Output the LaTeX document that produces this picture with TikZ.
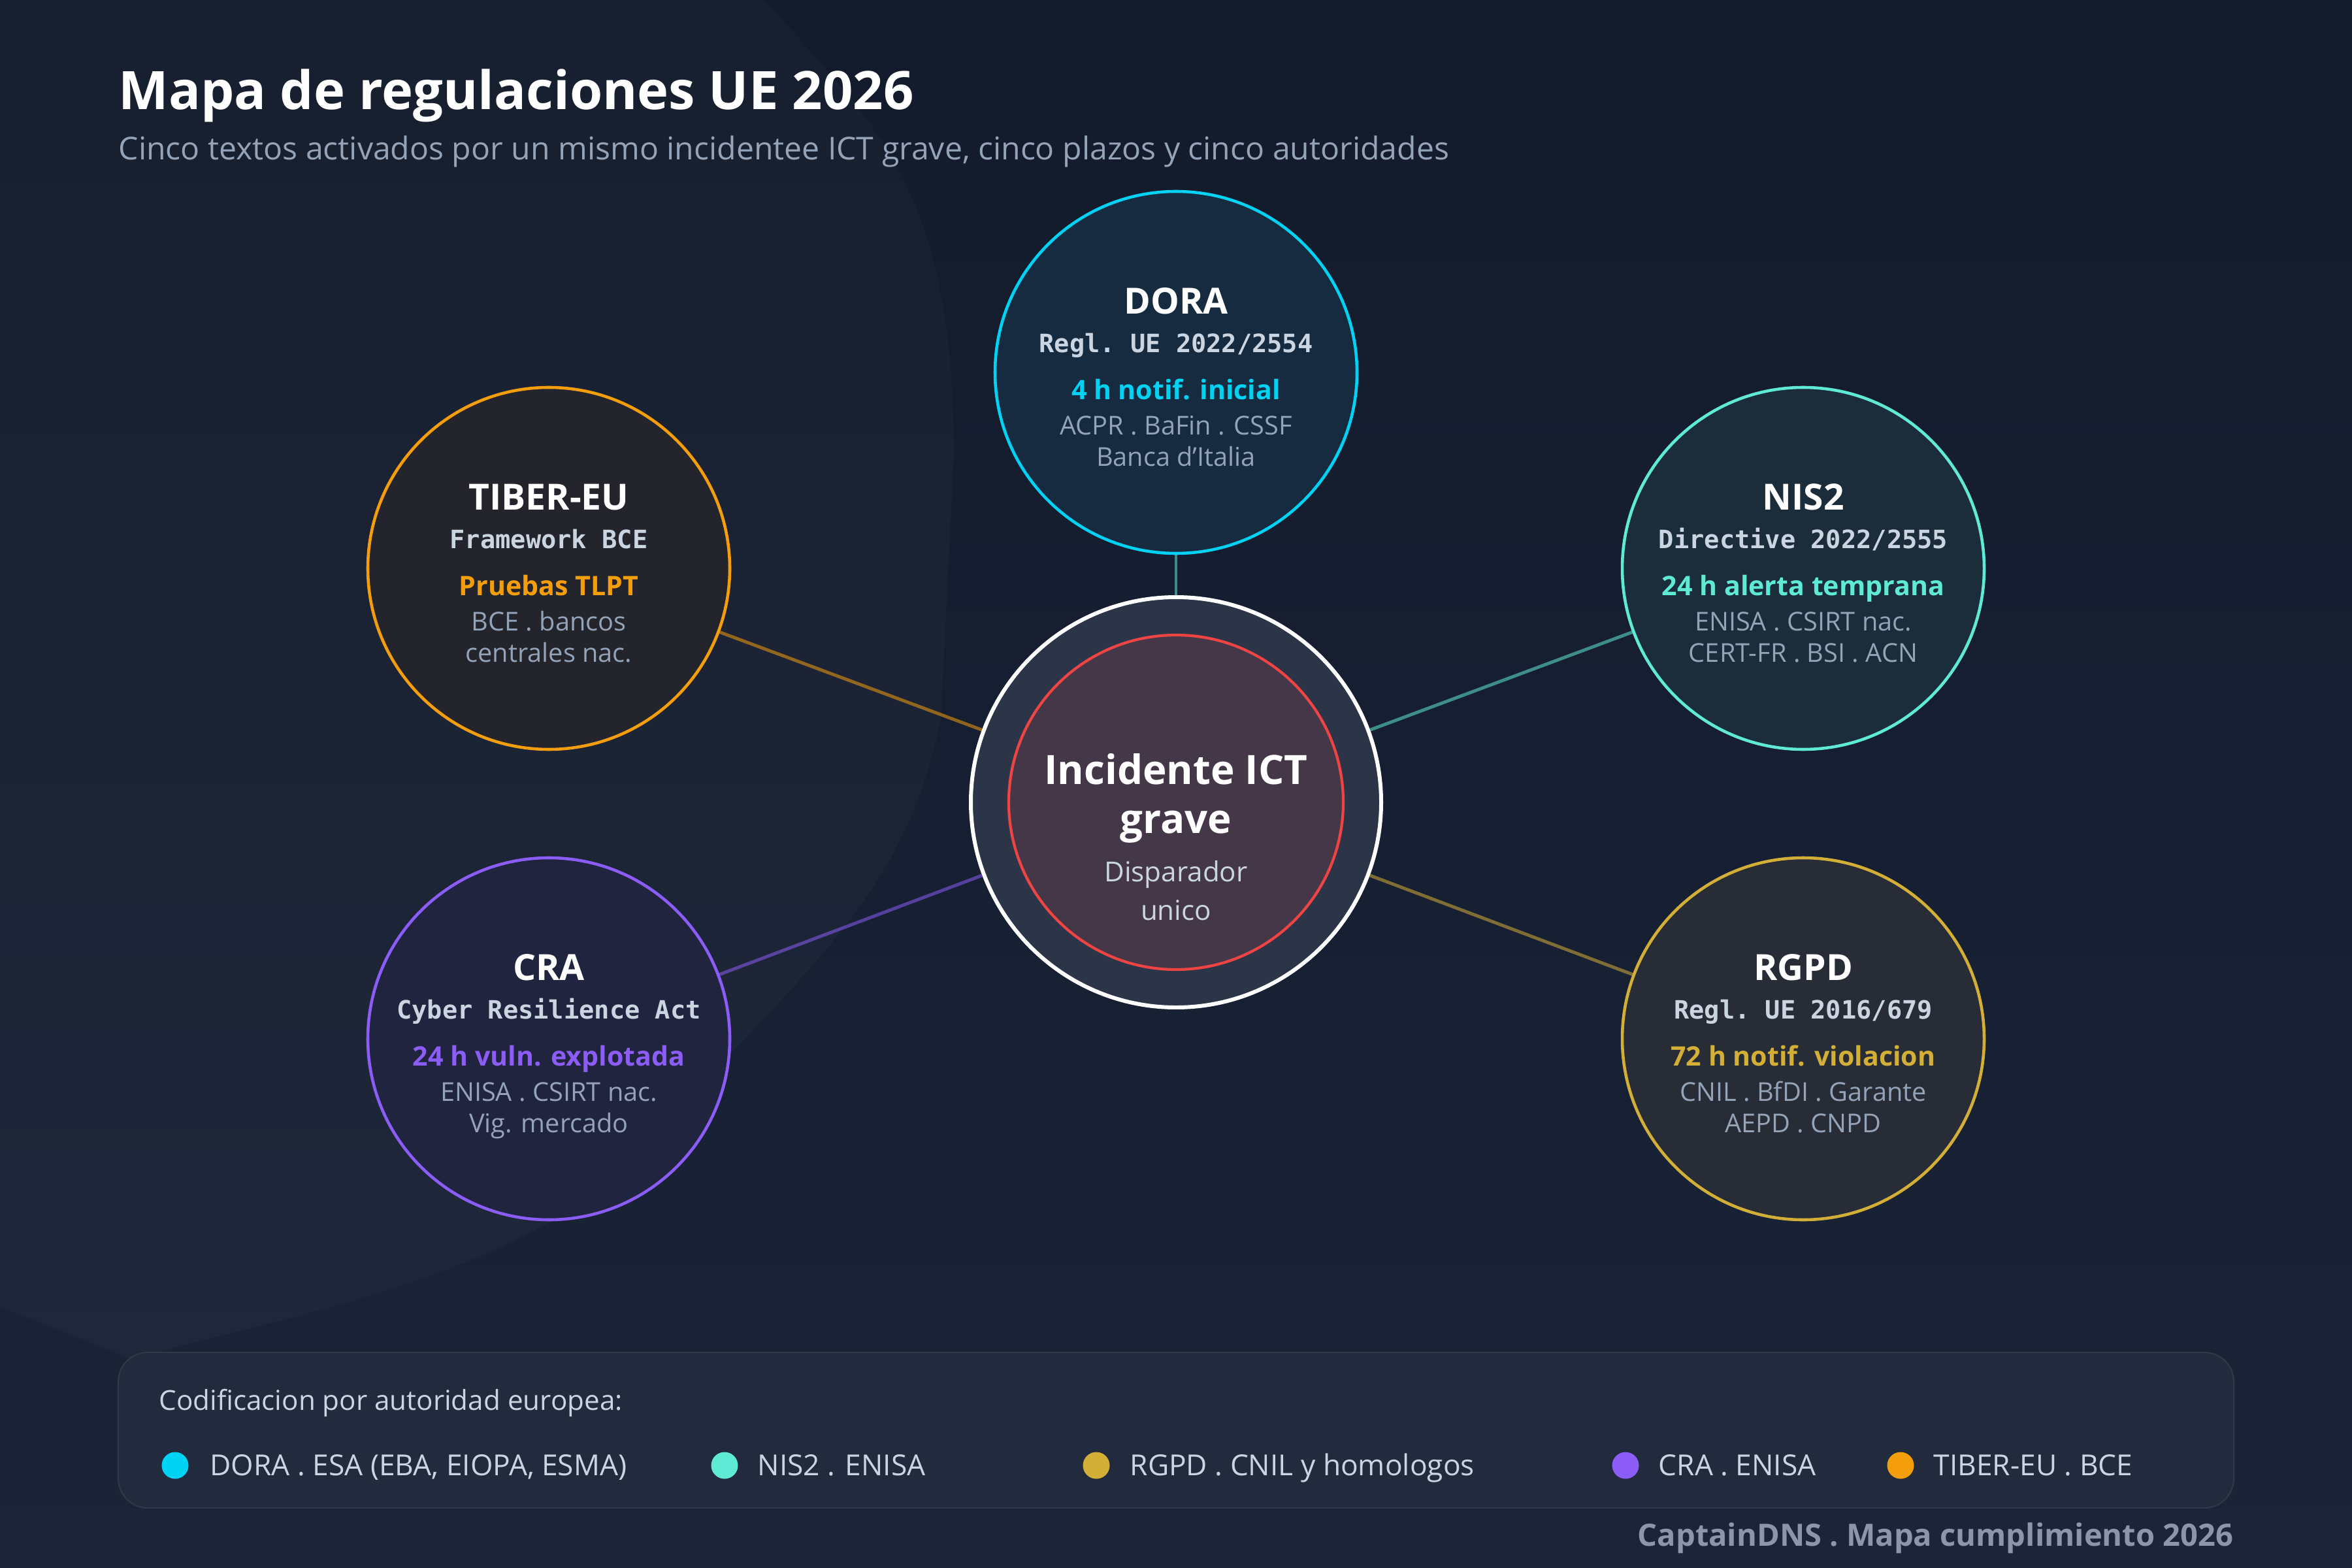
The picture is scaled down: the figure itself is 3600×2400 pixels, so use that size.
\documentclass[tikz,border=0pt]{standalone}
\usepackage{fontspec}
\setmainfont{Open Sans}
\setmonofont{DejaVu Sans Mono}
\usetikzlibrary{calc}
\usetikzlibrary{positioning}

\definecolor{bgtop}{HTML}{121A2B}
\definecolor{bgbot}{HTML}{1B2438}
\definecolor{slatelight}{HTML}{CBD5E1}
\definecolor{slatemid}{HTML}{94A3B8}
\definecolor{doracol}{HTML}{00D2F3}
\definecolor{dorafill}{HTML}{172B40}
\definecolor{niscol}{HTML}{5EEAD4}
\definecolor{nisfill}{HTML}{1B2C3B}
\definecolor{gdprcol}{HTML}{D4AF37}
\definecolor{gdprfill}{HTML}{272C36}
\definecolor{cracol}{HTML}{8B5CF6}
\definecolor{crafill}{HTML}{20243F}
\definecolor{tibercol}{HTML}{F59E0B}
\definecolor{tiberfill}{HTML}{24252C}
\definecolor{coreouter}{HTML}{2C3547}
\definecolor{coreinner}{HTML}{443747}
\definecolor{corered}{HTML}{EF4444}
\definecolor{legfill}{HTML}{222B3D}
\definecolor{legline}{HTML}{2F3849}
\definecolor{creditgray}{HTML}{8B97A9}

\tikzset{x=0.1mm, y=-0.1mm, % one unit = one pixel of the 3600x2400 picture
  every node/.style={inner sep=0pt, align=center},
  lawring/.style={circle, minimum size=5.54cm, line width=1.3pt},
  lawname/.style={anchor=base, text=white, font=\bfseries\fontsize{15.7}{18}\selectfont},
  lawref/.style={anchor=base, text=slatelight, font=\ttfamily\bfseries\fontsize{11}{13}\selectfont},
  lawtime/.style={anchor=base, font=\bfseries\fontsize{11.7}{14}\selectfont},
  lawauth/.style={anchor=base, text=slatemid, font=\fontsize{11.3}{13}\selectfont},
  link/.style={line width=1.4pt, draw opacity=0.55},
  legdot/.style={circle, minimum size=4.1mm},
  legtext/.style={anchor=base west, text=slatelight, font=\fontsize{12.6}{15}\selectfont}}

% name, position, ring colour, fill colour, title, reference, deadline, authorities (2 lines)
\newcommand{\lawnode}[9]{%
  \node[lawring, draw=#3, fill=#4] (#1) at (#2) {};
  \node[lawname] (#1-name) at ($(#1)+(0,-90)$) {#5};
  \node[lawref] (#1-ref) at ($(#1)+(0,-31)$) {#6};
  \node[lawtime, text=#3] (#1-time) at ($(#1)+(0,41)$) {#7};
  \node[lawauth] (#1-auth) at ($(#1)+(0,95)$) {#8};
  \node[lawauth] (#1-authb) at ($(#1)+(0,143)$) {#9};}

\begin{document}
\begin{tikzpicture}
  \useasboundingbox (0,0) rectangle (3600,2400);
  \fill[top color=bgtop, bottom color=bgbot] (0,0) rectangle (3600,2400);
  \fill[white, opacity=0.025] (0,0) -- (1170,0) .. controls (1350,200) and (1460,300) .. (1460,700)
    -- (1440,1100) .. controls (1380,1400) and (1200,1500) .. (1000,1750)
    .. controls (800,1950) and (500,2000) .. (200,2080) -- (0,2000) -- cycle;

  \node[anchor=base west, text=white, font=\bfseries\fontsize{23.1}{27}\selectfont] (title) at (181,168) {Mapa de regulaciones UE 2026};
  \node[anchor=base west, text=slatemid, font=\fontsize{13.7}{16}\selectfont] (subtitle) at (181,245)
    {Cinco textos activados por un mismo incidentee ICT grave, cinco plazos y cinco autoridades};

  % trigger in the middle
  \node[circle, minimum size=6.28cm, fill=coreouter, draw=white, line width=1.7pt] (incident) at (1800,1228) {};
  \node[circle, minimum size=5.12cm, fill=coreinner, draw=corered, line width=1.2pt] (trigger) at (incident) {};
  \node[anchor=base, text=white, font=\bfseries\fontsize{17.6}{20}\selectfont] (trigger-a) at ($(incident)+(0,-28)$) {Incidente ICT};
  \node[anchor=base, text=white, font=\bfseries\fontsize{17.6}{20}\selectfont] (trigger-b) at ($(incident)+(0,47)$) {grave};
  \node[anchor=base, text=slatelight, font=\fontsize{12}{14}\selectfont] (trigger-c) at ($(incident)+(0,121)$) {Disparador};
  \node[anchor=base, text=slatelight, font=\fontsize{12}{14}\selectfont] (trigger-d) at ($(incident)+(0,180)$) {unico};

  \lawnode{dora}{1800,570}{doracol}{dorafill}{DORA}{Regl. UE 2022/2554}{4 h notif. inicial}{ACPR . BaFin . CSSF}{Banca d'Italia}
  \lawnode{tiber}{840,870}{tibercol}{tiberfill}{TIBER-EU}{Framework BCE}{Pruebas TLPT}{BCE . bancos}{centrales nac.}
  \lawnode{nis}{2760,870}{niscol}{nisfill}{NIS2}{Directive 2022/2555}{24 h alerta temprana}{ENISA . CSIRT nac.}{CERT-FR . BSI . ACN}
  \lawnode{cra}{840,1590}{cracol}{crafill}{CRA}{Cyber Resilience Act}{24 h vuln. explotada}{ENISA . CSIRT nac.}{Vig. mercado}
  \lawnode{gdpr}{2760,1590}{gdprcol}{gdprfill}{RGPD}{Regl. UE 2016/679}{72 h notif. violacion}{CNIL . BfDI . Garante}{AEPD . CNPD}

  \draw[link, draw=niscol] (incident) -- (dora);
  \draw[link, draw=tibercol] (incident) -- (tiber);
  \draw[link, draw=niscol] (incident) -- (nis);
  \draw[link, draw=cracol] (incident) -- (cra);
  \draw[link, draw=gdprcol] (incident) -- (gdpr);

  % legend
  \node[rounded corners=4.5mm, fill=legfill, draw=legline, line width=0.6pt,
    minimum width=32.38cm, minimum height=2.38cm] (legend) at (1800,2189) {};
  \node[legtext, font=\fontsize{12}{14}\selectfont] (legend-head) at (243,2158) {Codificacion por autoridad europea:};
  \node[legdot, fill=doracol] (dot-dora) at (268,2243) {};
  \node[legtext] (key-dora) at (321,2258) {DORA . ESA (EBA, EIOPA, ESMA)};
  \node[legdot, fill=niscol] (dot-nis) at (1109,2243) {};
  \node[legtext] (key-nis) at (1159,2258) {NIS2 . ENISA};
  \node[legdot, fill=gdprcol] (dot-gdpr) at (1678,2243) {};
  \node[legtext] (key-gdpr) at (1729,2258) {RGPD . CNIL y homologos};
  \node[legdot, fill=cracol] (dot-cra) at (2488,2243) {};
  \node[legtext] (key-cra) at (2538,2258) {CRA . ENISA};
  \node[legdot, fill=tibercol] (dot-tiber) at (2909,2243) {};
  \node[legtext] (key-tiber) at (2959,2258) {TIBER-EU . BCE};

  \node[anchor=base east, text=creditgray, font=\bfseries\fontsize{13.4}{16}\selectfont] (credit) at (3419,2366) {CaptainDNS . Mapa cumplimiento 2026};
\end{tikzpicture}
\end{document}
